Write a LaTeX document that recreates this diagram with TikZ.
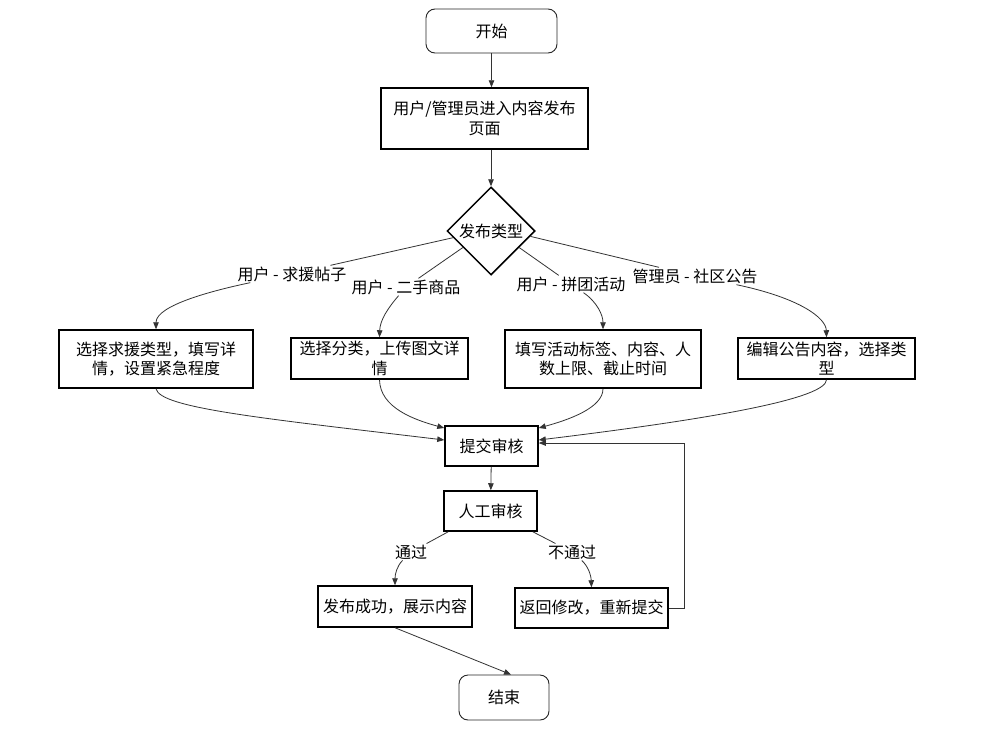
\documentclass[tikz,border=0pt]{standalone}
\usepackage{fontspec}
\setmainfont{Noto Sans CJK SC}
\usetikzlibrary{shapes.geometric,arrows.meta,calc}
\begin{document}
\begin{tikzpicture}[x=1pt,y=-1pt,
  every node/.style={font=\fontsize{16}{19.5}\selectfont},
  box/.style={draw=black,line width=1.5pt,align=center,inner sep=0pt},
  term/.style={draw=black!85,line width=0.9pt,rounded corners=9pt,align=center,inner sep=0pt},
  dec/.style={diamond,draw=black,line width=1.5pt,inner sep=0pt,minimum width=88pt,minimum height=88pt},
  lbl/.style={fill=white,inner sep=1pt},
  conn/.style={draw=black!80,line width=0.8pt,-{Triangle[length=7pt,width=5.5pt]}}]
\fill[white] (0,0) rectangle (985,731);
\useasboundingbox (0,0) rectangle (985,731);

% nodes
\node[term,minimum width=131pt,minimum height=44pt] (start) at (491.5,31) {开始};
\node[box,minimum width=207pt,minimum height=61pt] (enter) at (484.5,118.5) {用户/管理员进入内容发布\\页面};
\node[dec] (type) at (491,231) {发布类型};
\node[box,minimum width=194pt,minimum height=58pt] (help) at (156,359) {选择求援类型，填写详\\情，设置紧急程度};
\node[box,minimum width=177pt,minimum height=41pt] (goods) at (379.5,358.5) {选择分类，上传图文详\\情};
\node[box,minimum width=196pt,minimum height=58pt] (group) at (603,359) {填写活动标签、内容、人\\数上限、截止时间};
\node[box,minimum width=177pt,minimum height=41pt] (notice) at (826.5,358.5) {编辑公告内容，选择类\\型};
\node[box,minimum width=93pt,minimum height=40pt] (sub) at (491.5,446) {提交审核};
\node[box,minimum width=93pt,minimum height=40pt] (rev) at (490.5,511) {人工审核};
\node[box,minimum width=154pt,minimum height=41pt] (ok) at (395,606.5) {发布成功，展示内容};
\node[box,minimum width=153pt,minimum height=40pt] (ret) at (591.5,608) {返回修改，重新提交};
\node[term,minimum width=90pt,minimum height=45pt] (end) at (504,697.5) {结束};

% labels
\node[lbl] (l1) at (292,274) {用户 - 求援帖子};
\node[lbl] (l2) at (406,287) {用户 - 二手商品};
\node[lbl] (l3) at (571,284) {用户 - 拼团活动};
\node[lbl] (l4) at (695,276) {管理员 - 社区公告};
\node[lbl] (lp) at (411,552) {通过};
\node[lbl] (lf) at (572,552) {不通过};

% connectors
\draw[conn] (start.south) -- (start.south |- enter.north);
\draw[conn] (type.north |- enter.south) -- (type.north);
\draw[conn] ($(type.west)!0.15!(type.south)$) -- (l1) .. controls (215,290) and (156,305) .. (help.north);
\draw[conn] ($(type.west)!0.37!(type.south)$) -- (l2) .. controls (388,308) and (380,320) .. (goods.north);
\draw[conn] ($(type.east)!0.37!(type.south)$) -- (l3) .. controls (597,302) and (603,315) .. (group.north);
\draw[conn] ($(type.east)!0.12!(type.south)$) -- (l4) .. controls (800,298) and (826,318) .. (notice.north);

\draw[conn] (help.south) .. controls (160,408) and (260,418) .. ($(sub.west)+(0,-6)$);
\draw[conn] (goods.south) .. controls (380,408) and (415,420) .. ($(sub.west)+(0,-18)$);
\draw[conn] (group.south) .. controls (603,408) and (568,420) .. ($(sub.east)+(0,-18)$);
\draw[conn] (notice.south) .. controls (826,398) and (720,418) .. ($(sub.east)+(0,-6)$);
\draw[conn] (ret.east) -- ++(16,0) |- ($(sub.east)+(0,-3)$);

\draw[conn] (sub) -- (rev);
\draw[conn] ($(rev.south west)+(5,0)$) -- (lp) .. controls (397,566) and (395,574) .. (ok.north);
\draw[conn] ($(rev.south east)+(-5,0)$) -- (lf) .. controls (588,566) and (591,575) .. (ret.north);
\draw[conn] (ok.south) -- ($(end.north)+(7,0)$);
\end{tikzpicture}
\end{document}
